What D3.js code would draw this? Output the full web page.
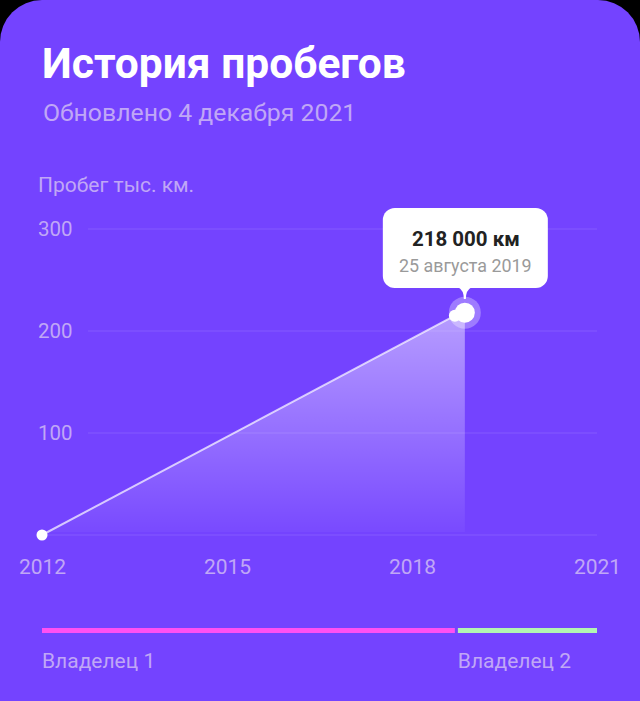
<!DOCTYPE html>
<html>
<head>
<meta charset="utf-8">
<script src="https://cdn.jsdelivr.net/npm/d3@7"></script>
<style>
  html, body { margin: 0; padding: 0; background: #000; }
  svg { display: block; }
  text { font-family: Roboto, "Noto Sans", sans-serif; }
</style>
</head>
<body>
<svg id="chart" width="640" height="701"></svg>
<script>
// ---- data ----
const title = "История пробегов";
const subtitle = "Обновлено 4 декабря 2021";
const yAxisTitle = "Пробег тыс. км.";
const yTicks = [100, 200, 300];
const xTickYears = [2012, 2015, 2018, 2021];
const pointDates = ["2012-01-01", "2018-09-12", "2018-11-10"];
const pointValues = [0, 215, 218];
const highlightLabel = "218 000 км";
const highlightDate = "25 августа 2019";
const ownerNames = ["Владелец 1", "Владелец 2"];
const ownerStarts = ["2012-01-01", "2018-09-12"];
const ownerEnds = ["2018-09-12", "2021-01-01"];
const ownerColors = ["#FF50F2", "#B3F5B2"];

// ---- setup ----
const W = 640, H = 701;
const bg = "#7443FF";
const soft = "#C0A7F6";
const parse = d3.timeParse("%Y-%m-%d");
const svg = d3.select("#chart");

svg.append("path")
  .attr("d", roundedTop(0, 0, W, H + 60, 42))
  .attr("fill", bg);

function roundedTop(x, y, w, h, r) {
  return `M${x},${y + r} A${r},${r} 0 0 1 ${x + r},${y} L${x + w - r},${y} A${r},${r} 0 0 1 ${x + w},${y + r} L${x + w},${y + h} L${x},${y + h} Z`;
}

svg.append("text").attr("x", 42).attr("y", 78)
  .attr("fill", "#fff").attr("font-size", 42.5).attr("font-weight", 700)
  .text(title);
svg.append("text").attr("x", 43).attr("y", 121)
  .attr("fill", soft).attr("font-size", 24.8)
  .text(subtitle);
svg.append("text").attr("x", 38).attr("y", 192)
  .attr("fill", soft).attr("font-size", 21)
  .text(yAxisTitle);

const x = d3.scaleTime()
  .domain([new Date(xTickYears[0], 0, 1), new Date(xTickYears[xTickYears.length - 1], 0, 1)])
  .range([42, 597]);
const y = d3.scaleLinear().domain([0, 300]).range([535, 229]);

// grid
const grid = svg.append("g");
grid.selectAll("line.g").data(yTicks).join("line")
  .attr("x1", 88).attr("x2", 597)
  .attr("y1", d => y(d)).attr("y2", d => y(d))
  .attr("stroke", "rgba(255,255,255,0.12)").attr("stroke-width", 1);
grid.append("line")
  .attr("x1", x.range()[0]).attr("x2", x.range()[1])
  .attr("y1", y(0)).attr("y2", y(0))
  .attr("stroke", "rgba(255,255,255,0.12)").attr("stroke-width", 1);

// y labels
svg.append("g").selectAll("text").data(yTicks).join("text")
  .attr("x", 38).attr("y", d => y(d))
  .attr("dy", "0.35em")
  .attr("fill", soft).attr("font-size", 20.5)
  .text(d => d);

// x labels
const xAxis = d3.axisBottom(x)
  .tickValues(xTickYears.map(yr => new Date(yr, 0, 1)))
  .tickFormat(d3.timeFormat("%Y"))
  .tickSize(0).tickPadding(0);
const gx = svg.append("g").attr("transform", "translate(0,559)").call(xAxis);
gx.select(".domain").remove();
gx.selectAll("text").attr("fill", soft).attr("font-size", 21)
  .attr("font-family", "Roboto, sans-serif").attr("dy", "0.71em");

// data
const pts = pointDates.map((d, i) => ({ date: parse(d), value: pointValues[i] }));
const last = pts[pts.length - 1];

const defs = svg.append("defs");
const grad = defs.append("linearGradient").attr("id", "fillGrad")
  .attr("x1", 0).attr("y1", 0).attr("x2", 0).attr("y2", 1);
grad.append("stop").attr("offset", "0%").attr("stop-color", "#fff").attr("stop-opacity", 0.48);
grad.append("stop").attr("offset", "100%").attr("stop-color", "#fff").attr("stop-opacity", 0.03);

const area = d3.area().x(d => x(d.date)).y0(y(0) - 3).y1(d => y(d.value));
svg.append("path").datum(pts).attr("d", area).attr("fill", "url(#fillGrad)");

const line = d3.line().x(d => x(d.date)).y(d => y(d.value));
svg.append("path").datum(pts.slice(0, 2)).attr("d", line)
  .attr("fill", "none").attr("stroke", "rgba(255,255,255,0.7)").attr("stroke-width", 2);

svg.append("circle").attr("cx", x(pts[0].date)).attr("cy", y(pts[0].value))
  .attr("r", 5.5).attr("fill", "#fff");
svg.append("circle").attr("cx", x(pts[1].date)).attr("cy", y(pts[1].value))
  .attr("r", 6).attr("fill", "#fff");
svg.append("circle").attr("cx", x(last.date)).attr("cy", y(last.value))
  .attr("r", 16).attr("fill", "rgba(255,255,255,0.3)");
svg.append("circle").attr("cx", x(last.date)).attr("cy", y(last.value))
  .attr("r", 10).attr("fill", "#fff");

// tooltip
const tx = x(last.date), tyTop = 208, tyBot = 288;
const tt = svg.append("g");
tt.append("rect").attr("x", tx - 82).attr("y", tyTop).attr("width", 165).attr("height", tyBot - tyTop)
  .attr("rx", 12).attr("fill", "#fff");
tt.append("path")
  .attr("d", `M${tx - 7},${tyBot - 1} Q${tx - 1},${tyBot + 2} ${tx - 1},${tyBot + 11} L${tx + 1},${tyBot + 11} Q${tx + 1},${tyBot + 2} ${tx + 7},${tyBot - 1} Z`)
  .attr("fill", "#fff");
tt.append("text").attr("x", tx + 1).attr("y", 246).attr("text-anchor", "middle")
  .attr("fill", "#222").attr("font-size", 20.5).attr("font-weight", 700)
  .text(highlightLabel);
tt.append("text").attr("x", tx + 0.5).attr("y", 272).attr("text-anchor", "middle")
  .attr("fill", "#9a9a9a").attr("font-size", 17.9)
  .text(highlightDate);

// owners
const owners = ownerNames.map((n, i) => ({ name: n, start: parse(ownerStarts[i]), end: parse(ownerEnds[i]), color: ownerColors[i] }));
const og = svg.append("g");
og.selectAll("rect").data(owners).join("rect")
  .attr("x", (d, i) => x(d.start) + (i ? 3 : 0))
  .attr("width", (d, i) => x(d.end) - x(d.start) - (i ? 3 : 0))
  .attr("y", 628).attr("height", 5)
  .attr("fill", d => d.color);
og.selectAll("text").data(owners).join("text")
  .attr("x", (d, i) => x(d.start) + (i ? 3 : 0))
  .attr("y", 668)
  .attr("fill", soft).attr("font-size", 21)
  .text(d => d.name);
</script>
</body>
</html>
